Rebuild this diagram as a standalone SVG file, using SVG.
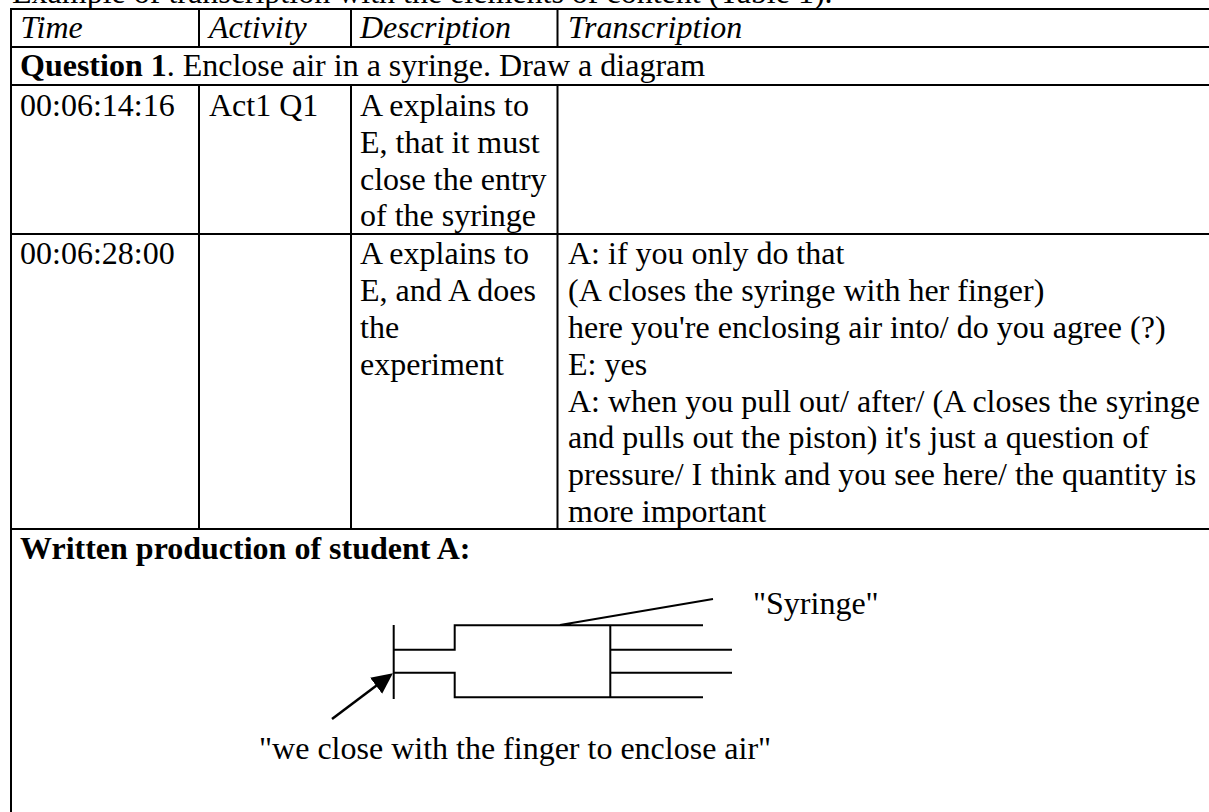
<svg xmlns="http://www.w3.org/2000/svg" width="1209" height="812" viewBox="0 0 1209 812">
<style>
text{font-family:"Liberation Serif","Times New Roman",serif;font-size:32px;fill:#000}
.i{font-style:italic}.b{font-weight:bold}
.l{stroke:#000;stroke-width:2;fill:none}
</style>
<defs><marker id="a" markerUnits="userSpaceOnUse" markerWidth="22" markerHeight="20" refX="18" refY="10" orient="auto"><path d="M0 0L21 10L0 20Z" fill="#000"/></marker></defs>
<rect width="1209" height="812" fill="#fff"/>
<text x="12" y="3">Example of transcription with the elements of content (Table 1).</text>
<g id="table">
<path class="l" d="M10 9H1209M10 47H1209M10 85H1209M10 234H1209M10 529H1209M11 8V812M199 9V47M199 85V529M351 9V47M351 85V529M557.500 9V47M557.500 85V529"/>
</g>
<g id="cells">
<text class="i" x="20.500" y="37.500">Time</text><text class="i" x="209" y="37.500">Activity</text><text class="i" x="360" y="37.500">Description</text><text class="i" x="568" y="37.500">Transcription</text>
<text x="20" y="76"><tspan class="b">Question 1</tspan>. Enclose air in a syringe. Draw a diagram</text>
<text x="20" y="115.500">00:06:14:16</text><text x="209" y="115.500">Act1 Q1</text>
<text x="360" y="115.500">A explains to</text><text x="360" y="152.500">E, that it must</text><text x="360" y="189.500">close the entry</text><text x="360" y="226">of the syringe</text>
<text x="20" y="264">00:06:28:00</text>
<text x="360" y="264">A explains to</text><text x="360" y="301">E, and A does</text><text x="360" y="338">the</text><text x="360" y="374.500">experiment</text>
<text x="568" y="264">A: if you only do that</text><text x="568" y="301">(A closes the syringe with her finger)</text><text x="568" y="338">here you're enclosing air into/ do you agree (?)</text><text x="568" y="374.500">E: yes</text><text x="568" y="411.500">A: when you pull out/ after/ (A closes the syringe</text><text x="568" y="448">and pulls out the piston) it's just a question of</text><text x="568" y="485">pressure/ I think and you see here/ the quantity is</text><text x="568" y="522">more important</text>
<text class="b" x="20" y="559">Written production of student A:</text>
<text x="753" y="613.500">"Syringe"</text>
<text x="259" y="758.500">"we close with the finger to enclose air"</text>
</g>
<g id="connectors">
<path class="l" d="M393.700 625V699M393 649.700H454.700V625.300H703M393 672.700H454.700V697.300H703M610.300 625V698M610 649.700H732M610 672.700H732M560 625L713 599"/>
<line class="l" style="stroke-width:2.500" x1="332" y1="719" x2="390.500" y2="675" marker-end="url(#a)"/>
</g>
</svg>
